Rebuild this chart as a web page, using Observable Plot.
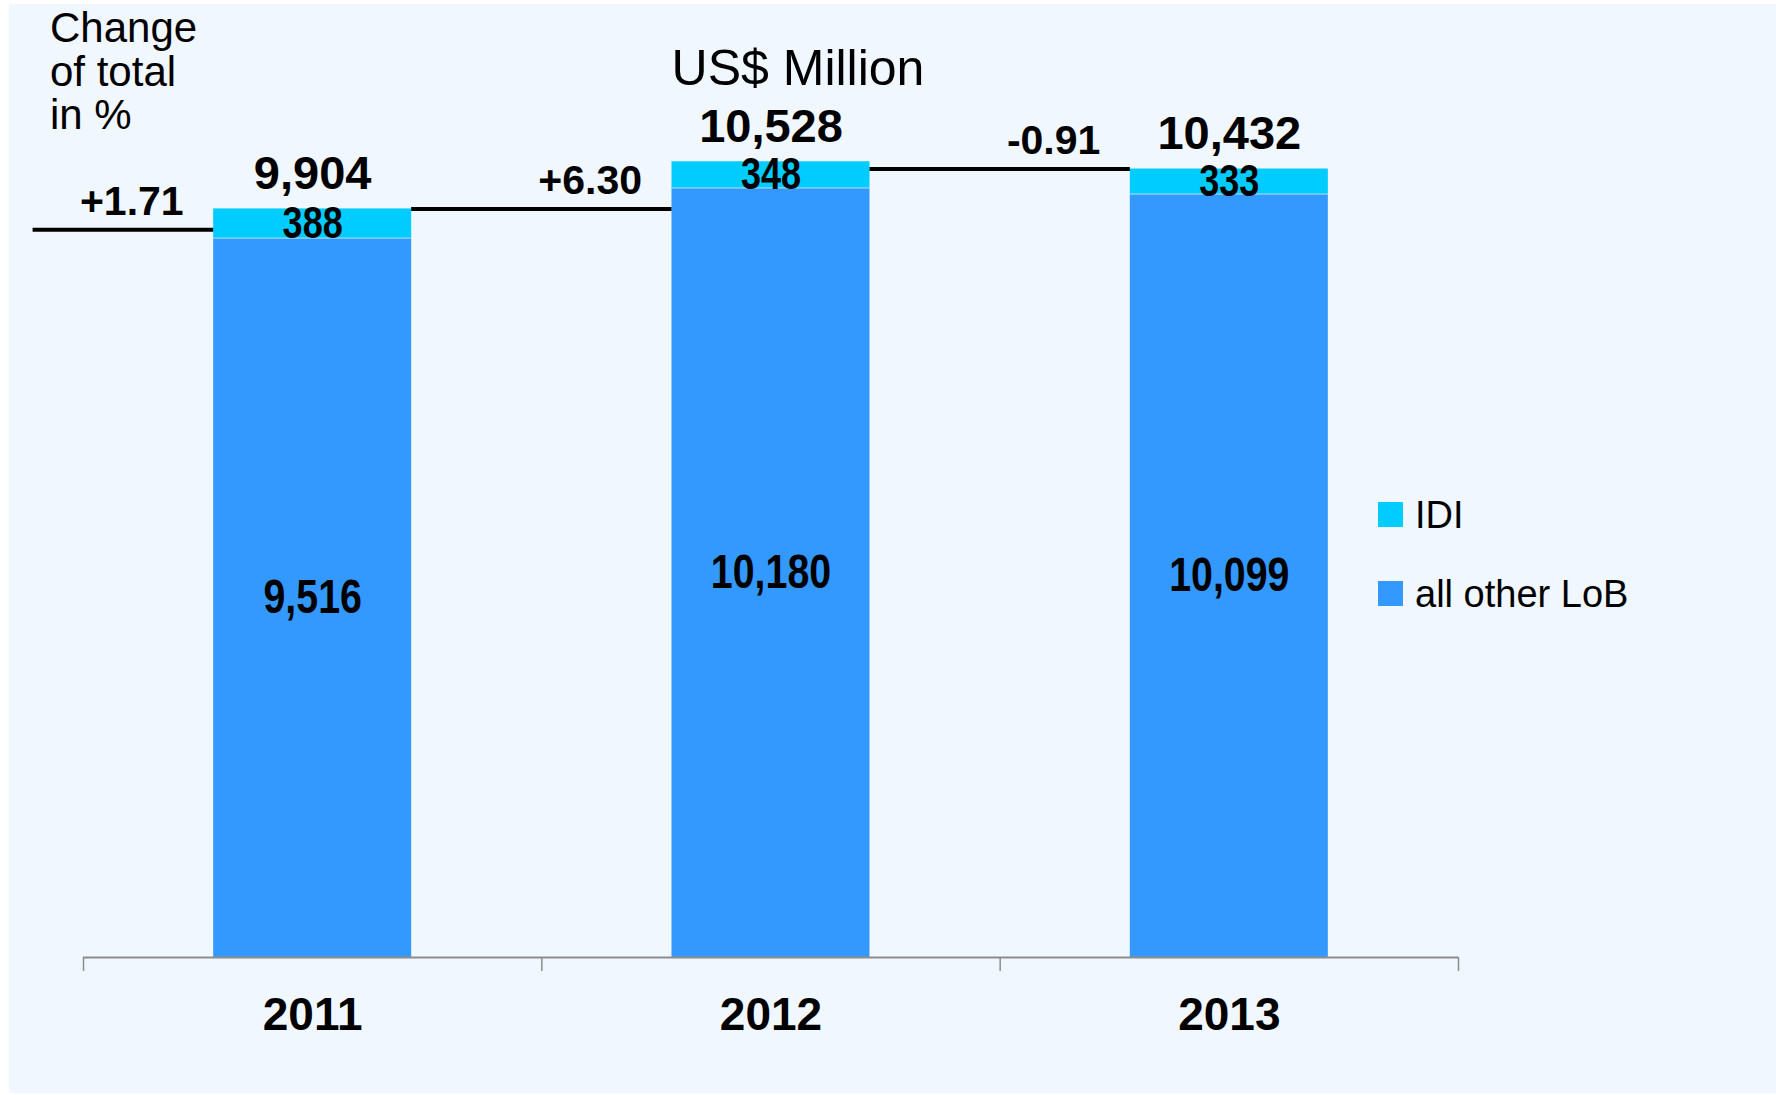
<!DOCTYPE html>
<html>
<head>
<meta charset="utf-8">
<script src="https://cdn.jsdelivr.net/npm/d3@7"></script>
<script src="https://cdn.jsdelivr.net/npm/@observablehq/plot@0.6"></script>
<style>
  html, body { margin: 0; padding: 0; background: #ffffff; }
  #wrap { position: relative; width: 1776px; height: 1095px; overflow: hidden; font-family: "Liberation Sans", Arial, sans-serif; }
  #panel { position: absolute; left: 9px; top: 4px; right: 0; bottom: 2px; background: #F0F7FF; }
  #chart { position: absolute; left: 0; top: 0; }
  #title { position: absolute; left: 798px; top: 43px; transform: translateX(-50%); font-size: 50px; line-height: 1; white-space: nowrap; color: #000; }
  #ylab { position: absolute; left: 50px; top: 6px; font-size: 42px; line-height: 43.5px; color: #000; }
  #legend { position: absolute; left: 1378px; top: 496px; color: #000; }
  .li { position: relative; height: 79px; }
  .sw { position: absolute; left: 0; top: 6px; width: 25px; height: 25px; }
  .lt { position: absolute; left: 37px; top: 0; font-size: 38px; line-height: 38px; white-space: nowrap; }
</style>
</head>
<body>
<div id="wrap">
  <div id="panel"></div>
  <div id="chart"></div>
  <div id="title">US$ Million</div>
  <div id="ylab">Change<br>of total<br>in %</div>
  <div id="legend"></div>
</div>
<script>
// ---- data ----
const years = ["2011", "2012", "2013"];
const otherLoB = [9516, 10180, 10099];
const idi = [388, 348, 333];
const totals = [9904, 10528, 10432];
const changeLabels = ["+1.71", "+6.30", "-0.91"];
const connectorLevels = [9630, 9904, 10432];
const seriesNames = ["IDI", "all other LoB"];
const seriesColors = ["#00CCFF", "#3399FF"];

// ---- layout constants (band units) ----
const half = 0.216;   // half bar width
const leadIn = -0.11; // start of the first connector line

const fmt = d3.format(",");
const rows = years.map((year, i) => ({
  year,
  c: i + 0.5,
  x1: i + 0.5 - half,
  x2: i + 0.5 + half,
  other: otherLoB[i],
  idi: idi[i],
  total: totals[i],
  change: changeLabels[i],
  level: connectorLevels[i],
  lx1: i === 0 ? leadIn : i - 0.5 + half,
  lx2: i + 0.5 - half
}));

const bold = "Liberation Sans, Arial, sans-serif";
const narrow = "Liberation Sans Narrow, Arial Narrow, Liberation Sans, sans-serif";

const chart = Plot.plot({
  width: 1776,
  height: 1095,
  marginLeft: 83,
  marginRight: 318,
  marginTop: 50,
  marginBottom: 138,
  x: { domain: [0, 3], axis: null },
  y: { domain: [0, 12000], axis: null },
  style: { background: "transparent", overflow: "visible" },
  marks: [
    Plot.rect(rows, { x1: "x1", x2: "x2", y1: 0, y2: "other", fill: seriesColors[1] }),
    Plot.rect(rows, { x1: "x1", x2: "x2", y1: "other", y2: "total", fill: seriesColors[0] }),
    Plot.ruleY(rows, { y: "other", x1: "x1", x2: "x2", stroke: "#9ad8ff", strokeWidth: 1 }),
    Plot.ruleY([0], { stroke: "#8c8c8c", strokeWidth: 2 }),
    Plot.axisX({ ticks: [0, 1, 2, 3], tickFormat: () => "", tickSize: 14, stroke: "#8c8c8c", strokeWidth: 1.5 }),
    Plot.ruleY(rows, { y: "level", x1: "lx1", x2: "lx2", stroke: "#000", strokeWidth: 4 }),
    Plot.text(rows, { x: "lx2", y: "level", text: "change", textAnchor: "end", lineAnchor: "bottom", dx: -30, dy: -15,
      fontSize: 41, fontWeight: "bold", fontFamily: bold, fill: "#000" }),
    Plot.text(rows, { x: "c", y: "total", text: d => fmt(d.total), lineAnchor: "bottom", dy: -20,
      fontSize: 47, fontWeight: "bold", fontFamily: bold, fill: "#000" }),
    Plot.text(rows, { x: "c", y: d => (d.other + d.total) / 2, text: d => fmt(d.idi), lineAnchor: "middle",
      fontSize: 44, fontWeight: "bold", fontFamily: narrow, fill: "#000" }),
    Plot.text(rows, { x: "c", y: d => d.other / 2, text: d => fmt(d.other), lineAnchor: "middle",
      fontSize: 48, fontWeight: "bold", fontFamily: narrow, fill: "#000" }),
    Plot.text(rows, { x: "c", y: 0, text: "year", lineAnchor: "bottom", dy: 72,
      fontSize: 46, fontWeight: "bold", fontFamily: bold, fill: "#000" })
  ]
});
document.getElementById("chart").appendChild(chart);

// condensed look for the in-bar labels (no narrow font installed)
chart.querySelectorAll('g[font-family*="Narrow"] text').forEach(t => {
  const tr = t.getAttribute("transform");
  if (tr) t.setAttribute("transform", tr + " scale(0.82,1)");
});

const legend = document.getElementById("legend");
seriesNames.forEach((name, i) => {
  const li = document.createElement("div");
  li.className = "li";
  const sw = document.createElement("div");
  sw.className = "sw";
  sw.style.background = seriesColors[i];
  const lt = document.createElement("div");
  lt.className = "lt";
  lt.textContent = name;
  li.appendChild(sw);
  li.appendChild(lt);
  legend.appendChild(li);
});
</script>
</body>
</html>
